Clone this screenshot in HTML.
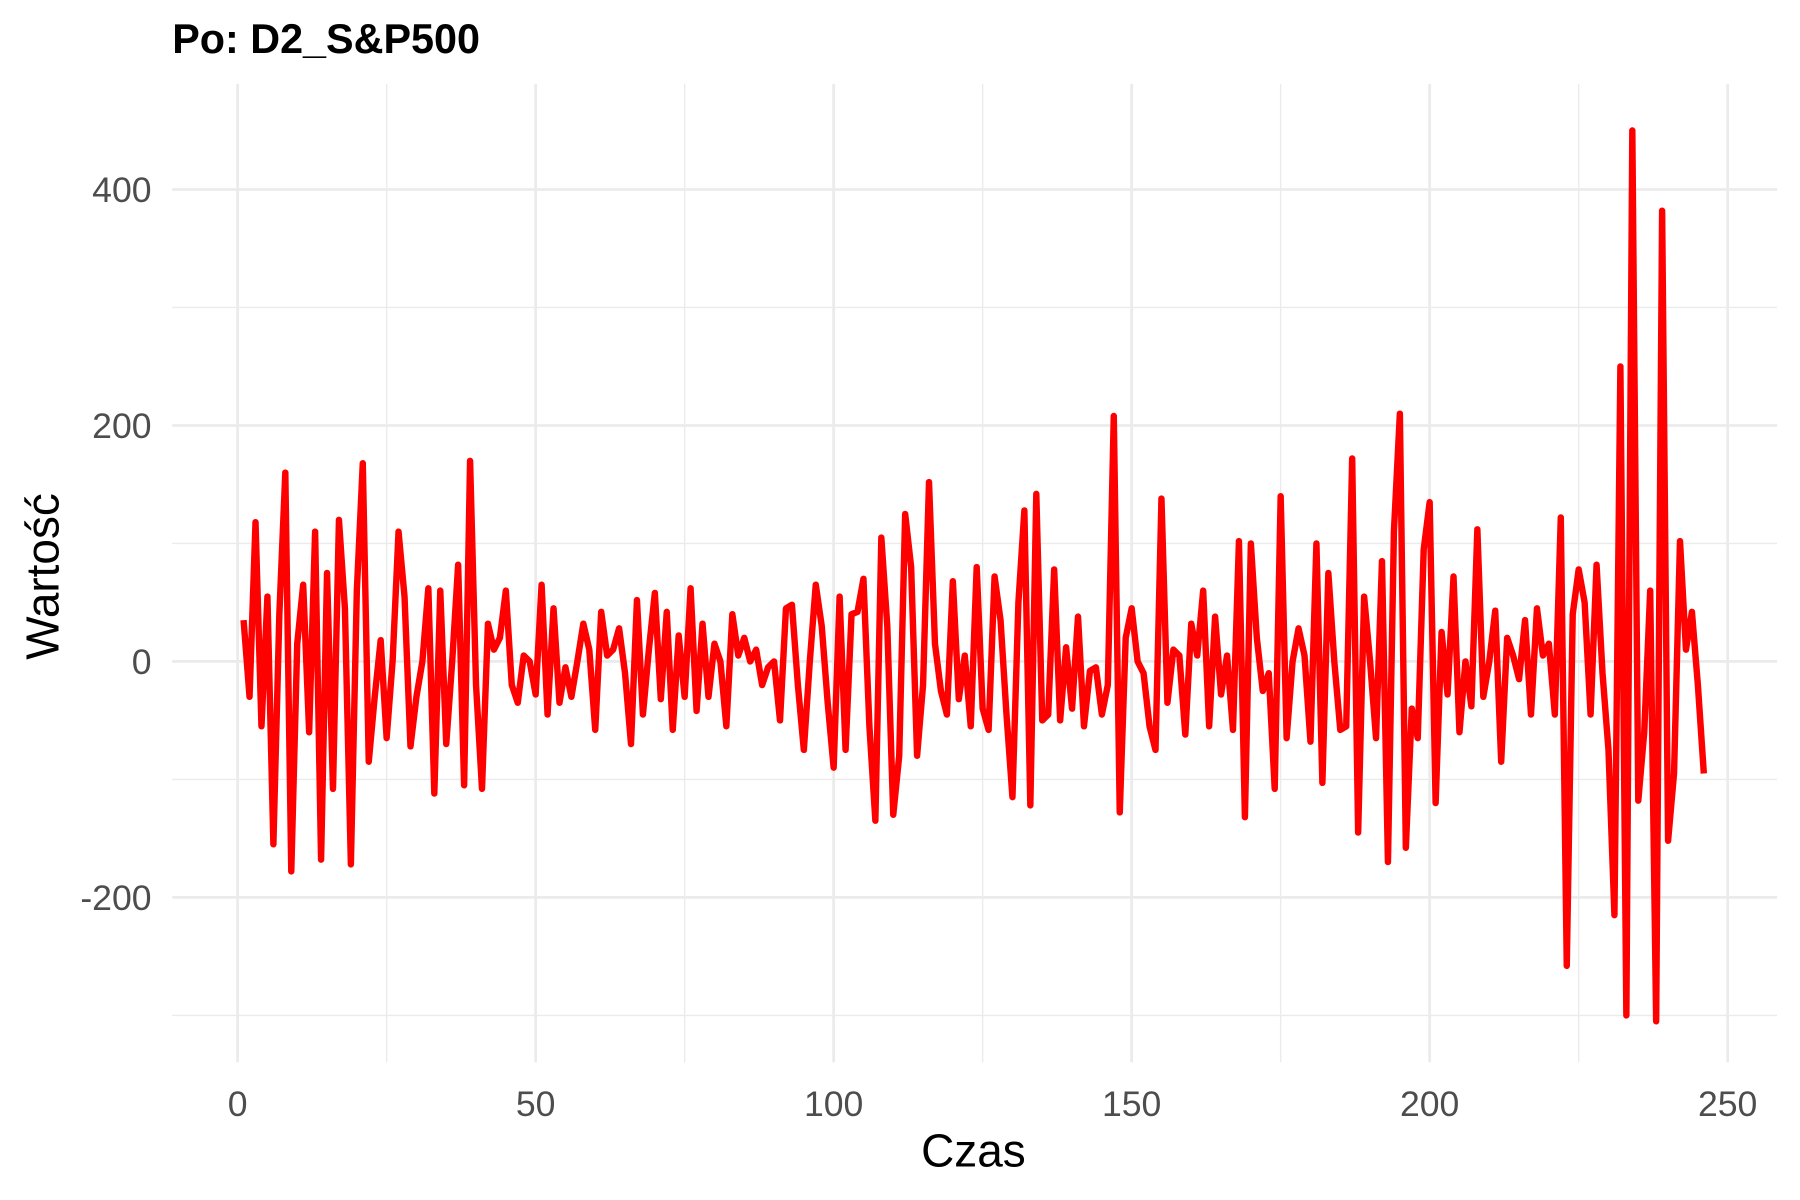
<!DOCTYPE html>
<html><head><meta charset="utf-8"><style>
html,body{margin:0;padding:0;background:#fff;}
svg{display:block;font-family:"Liberation Sans",Arial,sans-serif;}
</style></head><body>
<svg id="chart" width="1800" height="1200" viewBox="0 0 1568 1045" preserveAspectRatio="none" xmlns="http://www.w3.org/2000/svg">
<text x="150" y="46" font-size="36" font-weight="bold" fill="#000">Po: D2_S&amp;P500</text>
<g id="grid"></g>
<g id="xticks"></g>
<g id="yticks"></g>
<path id="line" fill="none" stroke="#ff0000" stroke-width="5.6" stroke-linejoin="round"></path>
<text x="848" y="1016" font-size="40" text-anchor="middle" fill="#000">Czas</text>
<text transform="translate(51,502) rotate(-90)" font-size="40" text-anchor="middle" fill="#000">Wartość</text>
</svg>
<script>
const values=[35,-30,118,-55,55,-155,40,160,-178,15,65,-60,110,-168,75,-108,120,45,-172,60,168,-85,-30,18,-65,0,110,55,-72,-30,0,62,-112,60,-70,0,82,-105,170,-20,-108,32,10,20,60,-20,-35,5,0,-28,65,-45,45,-35,-5,-30,0,32,10,-58,42,5,10,28,-10,-70,52,-45,10,58,-32,42,-58,22,-30,62,-42,32,-30,15,0,-55,40,5,20,0,10,-20,-5,0,-50,45,48,-20,-75,0,65,30,-35,-90,55,-75,40,42,70,-55,-135,105,30,-130,-80,125,80,-80,-20,152,15,-25,-45,68,-32,5,-55,80,-40,-58,72,35,-45,-115,50,128,-122,142,-50,-45,78,-50,12,-40,38,-55,-8,-5,-45,-20,208,-128,20,45,0,-10,-55,-75,138,-35,10,5,-62,32,5,60,-55,38,-28,5,-58,102,-132,100,20,-25,-10,-108,140,-65,0,28,5,-68,100,-103,75,0,-58,-55,172,-145,55,0,-65,85,-170,110,210,-158,-40,-65,95,135,-120,25,-28,72,-60,0,-38,112,-30,0,43,-85,20,5,-15,35,-45,45,5,15,-45,122,-258,40,78,50,-45,82,-10,-75,-215,250,-300,450,-118,-60,60,-305,382,-152,-95,102,10,42,-20,-95];
const xTicks=[0,50,100,150,200,250];
const xMinor=[25,75,125,175,225];
const yTicks=[-200,0,200,400];
const yMinor=[-300,-100,100,300];
const px0=150,px1=1548,py0=73,py1=925;
function X(t){return 207+t*(1505-207)/250;}
function Y(v){return 576-v*(576-165)/400;}
const NS="http://www.w3.org/2000/svg";
const grid=document.getElementById('grid');
function ln(x1,y1,x2,y2,w,name){const l=document.createElementNS(NS,'line');
l.setAttribute('x1',x1);l.setAttribute('y1',y1);l.setAttribute('x2',x2);l.setAttribute('y2',y2);
l.setAttribute('stroke','#ebebeb');l.setAttribute('stroke-width',w);


grid.appendChild(l);}
yMinor.forEach(v=>ln(px0,Y(v),px1,Y(v),1.2,'minor-gridline-y'));
xMinor.forEach(t=>ln(X(t),py0,X(t),py1,1.2,'minor-gridline-x'));
yTicks.forEach(v=>ln(px0,Y(v),px1,Y(v),2.4,'major-gridline-y'));
xTicks.forEach(t=>ln(X(t),py0,X(t),py1,2.4,'major-gridline-x'));
const xt=document.getElementById('xticks');
xTicks.forEach(t=>{const e=document.createElementNS(NS,'text');
e.setAttribute('x',X(t));e.setAttribute('y',972);e.setAttribute('font-size','31');
e.setAttribute('text-anchor','middle');e.setAttribute('fill','#4d4d4d');e.textContent=t;


xt.appendChild(e);});
const yt=document.getElementById('yticks');
yTicks.forEach(v=>{const e=document.createElementNS(NS,'text');
e.setAttribute('x',132);e.setAttribute('y',Y(v)+11);e.setAttribute('font-size','31');
e.setAttribute('text-anchor','end');e.setAttribute('fill','#4d4d4d');e.textContent=v;


yt.appendChild(e);});
document.getElementById('line').setAttribute('d',values.map((v,i)=>(i?'L':'M')+X(i+1).toFixed(2)+','+Y(v).toFixed(2)).join(''));
</script>
</body></html>
